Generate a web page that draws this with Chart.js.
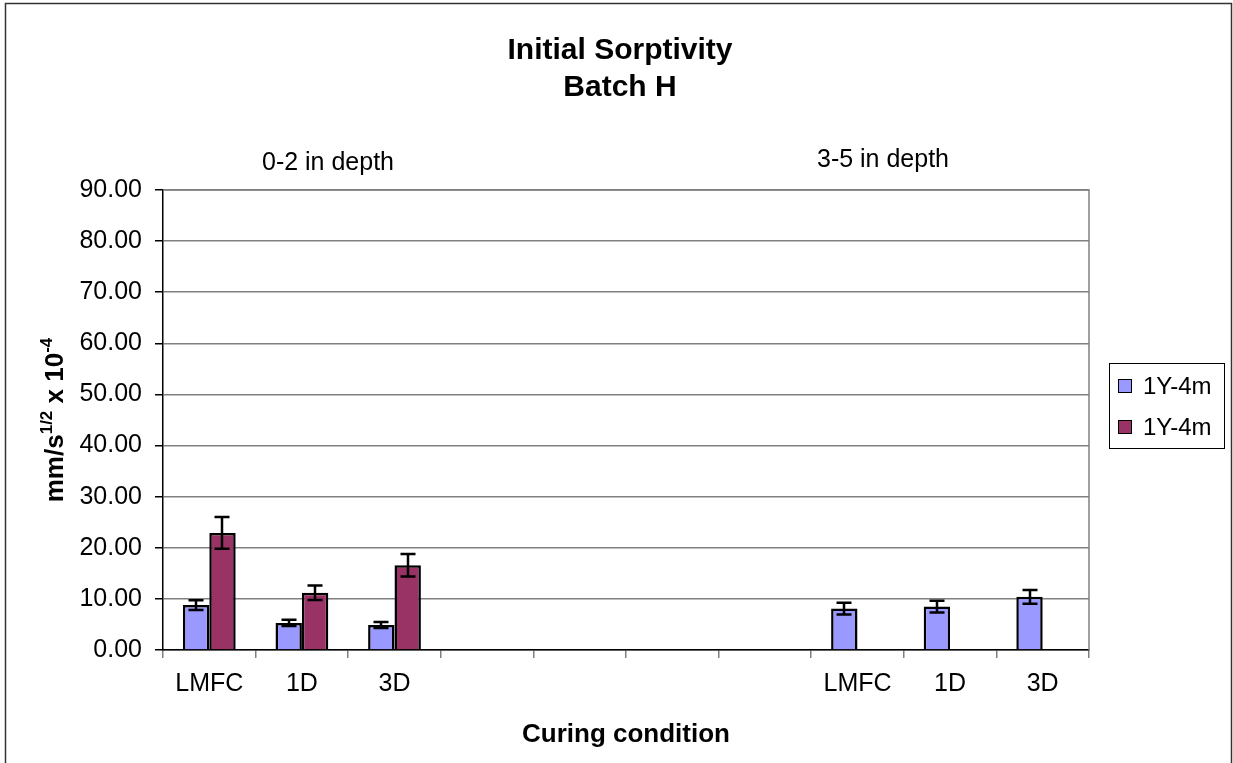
<!DOCTYPE html>
<html>
<head>
<meta charset="utf-8">
<title>Initial Sorptivity - Batch H</title>
<script src="https://cdn.jsdelivr.net/npm/chart.js@4.4.1/dist/chart.umd.min.js"></script>
<style>
  html, body { margin: 0; padding: 0; background: #ffffff; }
  canvas { display: block; }
</style>
</head>
<body>
<canvas id="chart" width="1233" height="763"></canvas>
<script>
// Curing conditions for the two depth ranges, separated by empty slots
const categories = ['LMFC', '1D', '3D', '', '', '', '', 'LMFC', '1D', '3D'];

// Sorptivity means (mm/s^1/2 x 10^-4)
const seriesA = [8.8, 5.3, 4.9, null, null, null, null, 8.1, 8.5, 10.4];
const seriesB = [22.9, 11.2, 16.6, null, null, null, null, null, null, null];

// Error bar half-widths (+/-)
const errorsA = [0.95, 0.6, 0.6, null, null, null, null, 1.15, 1.15, 1.35];
const errorsB = [3.1, 1.4, 2.2, null, null, null, null, null, null, null];

const seriesNames = ['1Y-4m', '1Y-4m'];
const yTicks = [0, 10, 20, 30, 40, 50, 60, 70, 80, 90];

const FONT = "'Liberation Sans', Arial, Helvetica, sans-serif";
const colorA = '#9999FF';
const colorB = '#993366';

// Draws the outer frame, titles, section captions, legend and error bars
const decorations = {
  id: 'decorations',
  beforeDraw(chart) {
    const ctx = chart.ctx;
    ctx.save();
    ctx.fillStyle = '#ffffff';
    ctx.fillRect(0, 0, chart.width, chart.height);
    ctx.restore();
  },
  afterDatasetsDraw(chart) {
    const ctx = chart.ctx;
    const y = chart.scales.y;
    const errs = [errorsA, errorsB];
    ctx.save();
    ctx.strokeStyle = '#000000';
    ctx.lineWidth = 2.5;
    chart.data.datasets.forEach((ds, di) => {
      const meta = chart.getDatasetMeta(di);
      meta.data.forEach((bar, i) => {
        const v = ds.data[i];
        const e = errs[di][i];
        if (v === null || e === null) return;
        const x = Math.round(bar.x);
        const yt = y.getPixelForValue(v + e);
        const yb = y.getPixelForValue(v - e);
        const cap = 7.5;
        ctx.beginPath();
        ctx.moveTo(x, yt); ctx.lineTo(x, yb);
        ctx.moveTo(x - cap, yt); ctx.lineTo(x + cap, yt);
        ctx.moveTo(x - cap, yb); ctx.lineTo(x + cap, yb);
        ctx.stroke();
      });
    });
    ctx.restore();
  },
  afterDraw(chart) {
    const ctx = chart.ctx;
    const a = chart.chartArea;
    ctx.save();

    // plot area border (top and right)
    ctx.strokeStyle = '#808080';
    ctx.lineWidth = 1.5;
    ctx.beginPath();
    ctx.moveTo(a.left, a.top);
    ctx.lineTo(a.right, a.top);
    ctx.lineTo(a.right, a.bottom);
    ctx.stroke();

    // outer chart frame
    ctx.strokeStyle = '#333333';
    ctx.lineWidth = 1.5;
    ctx.strokeRect(5.5, 3.5, 1226, 800);

    // chart title
    ctx.fillStyle = '#000000';
    ctx.textAlign = 'center';
    ctx.textBaseline = 'alphabetic';
    ctx.font = 'bold 30px ' + FONT;
    ctx.fillText('Initial Sorptivity', 620, 59);
    ctx.fillText('Batch H', 620, 96);

    // section captions
    ctx.font = '25px ' + FONT;
    ctx.fillText('0-2 in depth', 328, 170);
    ctx.fillText('3-5 in depth', 883, 167);

    // x axis title
    ctx.font = 'bold 26px ' + FONT;
    ctx.fillText('Curing condition', (a.left + a.right) / 2, 742);

    // y axis title with superscripts
    const parts = [
      { t: 'mm/s', sup: false },
      { t: '1/2', sup: true },
      { t: ' x 10', sup: false },
      { t: '-4', sup: true }
    ];
    const mainFont = 'bold 26px ' + FONT;
    const supFont = 'bold 17px ' + FONT;
    let total = 0;
    parts.forEach(p => {
      ctx.font = p.sup ? supFont : mainFont;
      p.w = ctx.measureText(p.t).width;
      total += p.w;
    });
    ctx.translate(63, (a.top + a.bottom) / 2);
    ctx.rotate(-Math.PI / 2);
    ctx.textAlign = 'left';
    let cx = -total / 2;
    parts.forEach(p => {
      ctx.font = p.sup ? supFont : mainFont;
      ctx.fillText(p.t, cx, p.sup ? -11 : 0);
      cx += p.w;
    });
    ctx.setTransform(1, 0, 0, 1, 0, 0);

    // legend
    ctx.strokeStyle = '#000000';
    ctx.lineWidth = 1;
    ctx.strokeRect(1109.5, 363.5, 115, 85);
    const colors = [colorA, colorB];
    const rowsY = [386, 427];
    ctx.font = '24px ' + FONT;
    ctx.textBaseline = 'middle';
    seriesNames.forEach((name, i) => {
      ctx.fillStyle = colors[i];
      ctx.fillRect(1118, rowsY[i] - 7, 14, 14);
      ctx.strokeRect(1118.5, rowsY[i] - 6.5, 13, 13);
      ctx.fillStyle = '#000000';
      ctx.fillText(name, 1143, rowsY[i] + 1);
    });

    ctx.restore();
  }
};

new Chart(document.getElementById('chart'), {
  type: 'bar',
  data: {
    labels: categories,
    datasets: [
      {
        label: seriesNames[0],
        data: seriesA,
        backgroundColor: colorA,
        borderColor: '#000000',
        borderWidth: 2.5,
        categoryPercentage: 0.57,
        barPercentage: 1.0
      },
      {
        label: seriesNames[1],
        data: seriesB,
        backgroundColor: colorB,
        borderColor: '#000000',
        borderWidth: 2.5,
        categoryPercentage: 0.57,
        barPercentage: 1.0
      }
    ]
  },
  options: {
    responsive: false,
    animation: false,
    devicePixelRatio: 1,
    layout: { padding: { left: 0, top: 190, right: 144, bottom: 0 } },
    plugins: {
      legend: { display: false },
      title: { display: false },
      tooltip: { enabled: false }
    },
    scales: {
      x: {
        offset: true,
        grid: {
          display: true,
          offset: true,
          drawOnChartArea: false,
          drawTicks: true,
          tickLength: 8,
          color: '#808080',
          lineWidth: 1.5
        },
        border: { color: '#000000', width: 1.5 },
        ticks: {
          color: '#000000',
          font: { family: FONT, size: 25 },
          padding: 11,
          maxRotation: 0,
          autoSkip: false
        },
        afterFit(scale) { scale.height = 113; }
      },
      y: {
        min: 0,
        max: 90,
        afterBuildTicks(scale) { scale.ticks = yTicks.map(v => ({ value: v })); },
        grid: {
          color: '#808080',
          lineWidth: 1.5,
          drawTicks: true,
          tickLength: 8,
          tickColor: '#000000'
        },
        border: { color: '#000000', width: 1.5 },
        ticks: {
          color: '#000000',
          font: { family: FONT, size: 25 },
          padding: 13,
          callback: v => Number(v).toFixed(2)
        },
        afterFit(scale) { scale.width = 163; }
      }
    }
  },
  plugins: [decorations]
});
</script>
</body>
</html>
